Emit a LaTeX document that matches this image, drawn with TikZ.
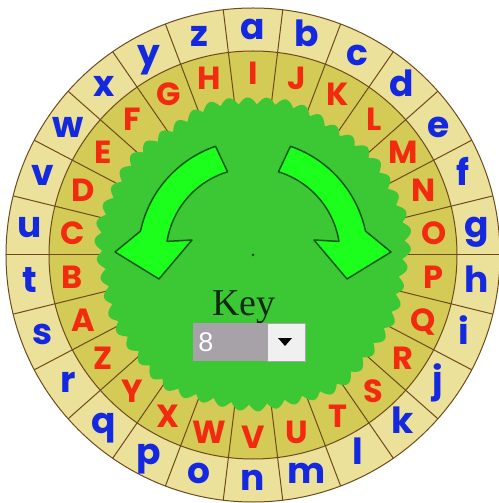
\documentclass[tikz,border=0pt]{standalone}
\usepackage{fontspec}
\newfontfamily\wheelfont{Poppins}
\newfontfamily\keyfont{Liberation Serif}
\newfontfamily\uifont{Liberation Sans}
\definecolor{outerring}{HTML}{EBE19A}
\definecolor{innerring}{HTML}{D3CB55}
\definecolor{divider}{HTML}{6E4A1C}
\definecolor{centergreen}{HTML}{3CC834}
\definecolor{arrowgreen}{HTML}{1CFF1C}
\definecolor{arrowedge}{HTML}{0A5A0A}
\definecolor{lowblue}{HTML}{1428E0}
\definecolor{upred}{HTML}{F22A10}
\definecolor{keydark}{HTML}{0E2A0E}
\definecolor{boxgray}{HTML}{A7A2A8}
\tikzset{
  ringline/.style={draw=divider, line width=1pt},
  lowletter/.style={text=lowblue, font=\wheelfont\bfseries\fontsize{36}{36}\selectfont, anchor=base, inner sep=0pt},
  upletter/.style={text=upred, font=\wheelfont\bfseries\fontsize{32}{32}\selectfont, anchor=base, inner sep=0pt},
  turnarrow/.style={fill=arrowgreen, draw=arrowedge, line width=1.5pt, line join=round},
}
\begin{document}
\begin{tikzpicture}[x=1pt,y=1pt]
\useasboundingbox (-253,-248) rectangle (245,255);
\fill[white] (-253,-248) rectangle (245,255);
% rings
\fill[outerring] (0,0) circle[radius=247pt];
\fill[innerring] (0,0) circle[radius=204pt];
\foreach \i in {0,...,25}
  \draw[ringline] ({90-180/26+\i*360/26}:140pt) -- ({90-180/26+\i*360/26}:247pt);
\draw[ringline] (0,0) circle[radius=247pt];
\draw[ringline] (0,0) circle[radius=204pt];
% green centre with serrated edge
\fill[centergreen] plot[domain=0:360, samples=729] (\x:{150+7*abs(sin(26*\x+40))+2*sin(5*\x)+1.5*sin(11*\x)}) -- cycle;
% letters
\foreach \l [count=\k from 0] in {a,b,c,d,e,f,g,h,i,j,k,l,m,n,o,p,q,r,s,t,u,v,w,x,y,z}{
  \pgfmathsetmacro\ang{90-\k*360/26}
  \node[lowletter] (lo-\k) at ([yshift=-10pt]\ang:225pt) {\l};
}
\foreach \L [count=\k from 0] in {I,J,K,L,M,N,O,P,Q,R,S,T,U,V,W,X,Y,Z,A,B,C,D,E,F,G,H}{
  \pgfmathsetmacro\ang{90-\k*360/26}
  \node[upletter] (up-\k) at ([yshift=-11.5pt]\ang:182pt) {\L};
}
% arrows
\draw[turnarrow] (109:115pt) arc[start angle=109, end angle=168, radius=115pt]
  -- (-138,3) -- (-94,-24) -- (-61,15) -- (171:87pt)
  arc[start angle=171, end angle=107, radius=87pt] -- cycle;
\draw[turnarrow] (71:115pt) arc[start angle=71, end angle=12, radius=115pt]
  -- (138,3) -- (94,-24) -- (61,15) -- (9:87pt)
  arc[start angle=9, end angle=73, radius=87pt] -- cycle;
% centre dot
\fill[arrowedge] (0,0) circle[radius=1.5pt];
% key label and drop-down
\node[text=keydark, font=\keyfont\fontsize{38}{38}\selectfont, anchor=base] (key) at (-9,-60) {Key};
\fill[boxgray] (-60,-68) rectangle (14,-106);
\node[text=white, font=\uifont\fontsize{27}{27}\selectfont] (keyval) at (-47,-87) {8};
\draw[fill=white!94!black, draw=gray!70] (14,-68) rectangle (52,-106);
\fill[black] (25,-83) -- (39,-83) -- (32,-91) -- cycle;
\end{tikzpicture}
\end{document}
